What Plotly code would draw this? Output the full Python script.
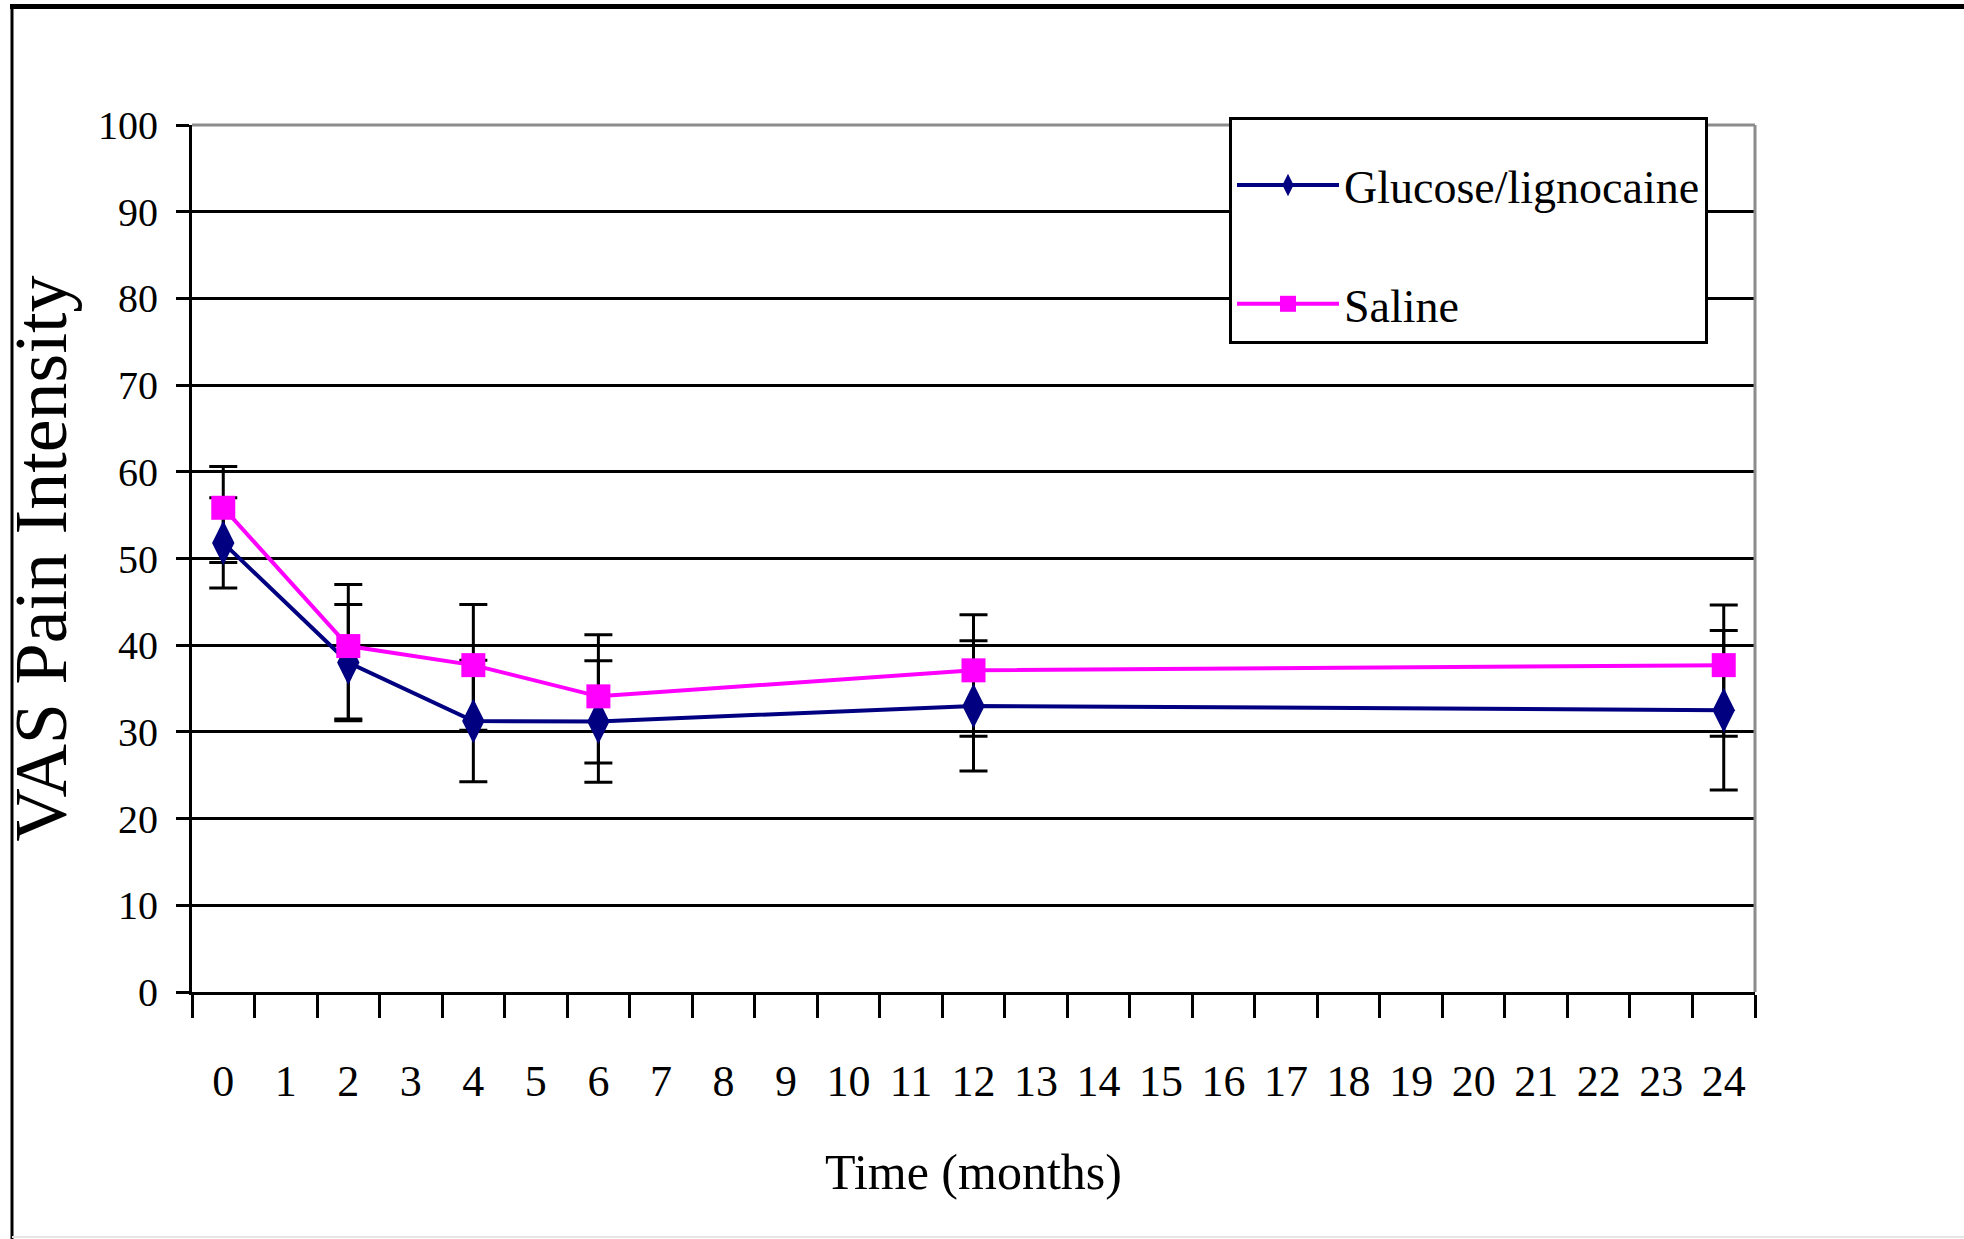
import plotly.graph_objects as go

# ---- data ----
months = [0, 2, 4, 6, 12, 24]
tick_labels = [str(i) for i in range(25)]

glucose_mean = [51.8, 38.0, 31.25, 31.2, 33.0, 32.5]
glucose_err = [5.2, 6.7, 7.0, 7.0, 7.5, 9.2]

saline_mean = [55.85, 39.9, 37.7, 34.1, 37.1, 37.7]
saline_err_plus = [4.75, 7.1, 7.0, 7.1, 6.4, 6.95]
saline_err_minus = [6.3, 8.4, 7.5, 7.7, 7.6, 8.2]

y_ticks = list(range(0, 101, 10))

# ---- layout geometry (pixels) ----
W, H = 1964, 1239
L, R, T, B = 192, 1755, 125, 992

def px(x):
    return (x - L) / (R - L)

def py(y):
    return (B - y) / (B - T)

FONT = "Liberation Serif, Times New Roman, serif"
NAVY = "#000080"
MAGENTA = "#FF00FF"

fig = go.Figure()

# error bars first (behind every marker)
fig.add_trace(go.Scatter(
    x=months, y=glucose_mean, mode="markers",
    marker=dict(size=2, opacity=0),
    error_y=dict(type="data", array=glucose_err, color="black", thickness=3, width=14),
    showlegend=False, hoverinfo="skip"))
fig.add_trace(go.Scatter(
    x=months, y=saline_mean, mode="markers",
    marker=dict(size=2, opacity=0),
    error_y=dict(type="data", symmetric=False, array=saline_err_plus,
                 arrayminus=saline_err_minus, color="black", thickness=3, width=14),
    showlegend=False, hoverinfo="skip"))

fig.add_trace(go.Scatter(
    x=months, y=glucose_mean, mode="lines+markers", name="Glucose/lignocaine",
    line=dict(color=NAVY, width=4),
    marker=dict(symbol="diamond-tall", size=32, color=NAVY),
    legendgroup="g"))
fig.add_trace(go.Scatter(
    x=months, y=saline_mean, mode="lines+markers", name="Saline",
    line=dict(color=MAGENTA, width=4),
    marker=dict(symbol="square", size=24, color=MAGENTA),
    legendgroup="s"))

shapes = [
    # gray plot-area border (top and right)
    dict(type="line", xref="x domain", yref="y domain", x0=0, x1=1, y0=1, y1=1,
         line=dict(color="#8c8c8c", width=3), layer="above"),
    dict(type="line", xref="x domain", yref="y domain", x0=1, x1=1, y0=0, y1=1,
         line=dict(color="#8c8c8c", width=3), layer="above"),
    # outer frame of the picture
    dict(type="line", xref="paper", yref="paper", x0=px(10), x1=px(W), y0=py(6.5), y1=py(6.5),
         line=dict(color="black", width=5)),
    dict(type="line", xref="paper", yref="paper", x0=px(12), x1=px(12), y0=py(4), y1=py(H),
         line=dict(color="black", width=3)),
    dict(type="line", xref="paper", yref="paper", x0=px(12), x1=px(W), y0=py(1237), y1=py(1237),
         line=dict(color="#e6e6e6", width=2)),
]

fig.update_layout(
    width=W, height=H, autosize=False,
    margin=dict(l=L, r=W - R, t=T, b=H - B, pad=0),
    paper_bgcolor="white", plot_bgcolor="white",
    font=dict(family=FONT, color="black"),
    showlegend=True,
    legend=dict(
        x=px(1229), y=py(117), xanchor="left", yanchor="top",
        bgcolor="white", bordercolor="black", borderwidth=3,
        font=dict(family=FONT, size=46, color="black"),
        title=dict(text=" ", font=dict(family=FONT, size=22)),
        tracegroupgap=56, itemwidth=102,
    ),
    shapes=shapes,
)

fig.update_xaxes(
    range=[-0.5, 24.5],
    tickmode="array", tickvals=list(range(25)), ticktext=tick_labels,
    ticks="", showgrid=False, zeroline=False,
    showline=True, linecolor="black", linewidth=3,
    tickfont=dict(family=FONT, size=44, color="black"),
    ticklabelstandoff=48,
    minor=dict(tickmode="array", tickvals=[i - 0.5 for i in range(26)],
               ticks="outside", ticklen=23, tickwidth=3, tickcolor="black", showgrid=False),
    title=dict(text="Time (months)", font=dict(family=FONT, size=50, color="black"), standoff=50),
)

fig.update_yaxes(
    range=[0, 100],
    tickmode="array", tickvals=y_ticks,
    ticks="outside", ticklen=13, tickwidth=3, tickcolor="black",
    showgrid=True, gridcolor="black", gridwidth=3,
    zeroline=False,
    showline=True, linecolor="black", linewidth=3,
    tickfont=dict(family=FONT, size=40, color="black"),
    ticklabelstandoff=10,
    title=dict(text="VAS Pain Intensity", font=dict(family=FONT, size=74, color="black"), standoff=12),
)

fig.write_html("out.html")
